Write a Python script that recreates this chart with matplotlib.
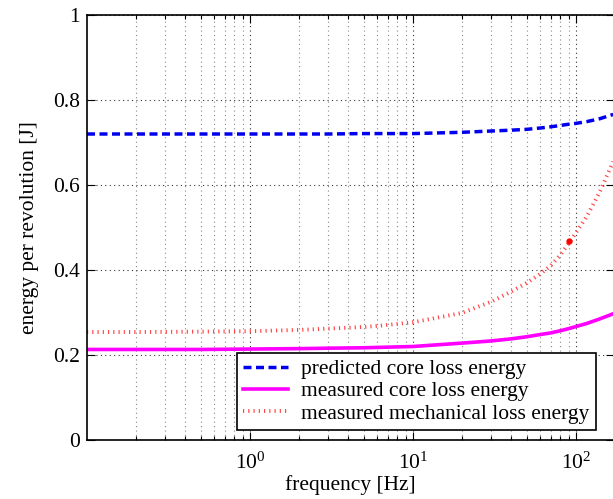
import numpy as np
import matplotlib
matplotlib.use("Agg")
import matplotlib.pyplot as plt
from matplotlib.ticker import LogLocator, MultipleLocator, NullFormatter, FixedLocator, FormatStrFormatter

plt.rcParams['font.family'] = ['Liberation Serif', 'DejaVu Serif']
plt.rcParams['mathtext.fontset'] = 'custom'
plt.rcParams['mathtext.rm'] = 'Liberation Serif'
plt.rcParams['mathtext.it'] = 'Liberation Serif:italic'

# values
freq = [0.1, 0.2, 0.5, 1, 2, 3, 5, 6.3, 10, 20, 30, 40, 50, 60, 70, 80, 90, 100, 116, 140, 169]
predicted_core = [0.720, 0.720, 0.720, 0.720, 0.720, 0.720, 0.721, 0.721, 0.721, 0.724, 0.727, 0.729,
                  0.731, 0.734, 0.737, 0.740, 0.743, 0.745, 0.749, 0.756, 0.766]
measured_core = [0.213, 0.213, 0.213, 0.214, 0.215, 0.216, 0.217, 0.218, 0.220, 0.228, 0.233, 0.238,
                 0.243, 0.248, 0.252, 0.257, 0.262, 0.267, 0.274, 0.285, 0.297]
measured_mech = [0.254, 0.254, 0.255, 0.256, 0.259, 0.262, 0.266, 0.269, 0.277, 0.299, 0.325, 0.349,
                 0.370, 0.390, 0.410, 0.435, 0.462, 0.488, 0.525, 0.584, 0.655]
dot_f = [90]
dot_E = [0.468]
xtick_pos = [1, 10, 100]

W, H = 613, 499
fig = plt.figure(figsize=(W / 100, H / 100), dpi=100)
ax = fig.add_axes([87 / W, (H - 440) / H, 527 / W, 425 / H])

ax.plot(freq, predicted_core, color='#0000ee', lw=2.5, dashes=(2.3, 1.3),
        label='predicted core loss energy')
ax.plot(freq, measured_core, color='magenta', lw=2.6, label='measured core loss energy')
ax.plot(freq, measured_mech, color='#ff4545', lw=2.8, dashes=(0.3, 1.05),
        label='measured mechanical loss energy')
ax.plot(dot_f, dot_E, 'o', color='red', ms=3.5)

ax.set_xscale('log')
ax.set_xlim(0.1, 10 ** ((614 - 250) / 163))
ax.set_ylim(0, 1)
ax.yaxis.set_major_locator(MultipleLocator(0.2))
ax.yaxis.set_major_formatter(FormatStrFormatter('%g'))
ax.xaxis.set_major_locator(FixedLocator(xtick_pos))
ax.xaxis.set_minor_locator(LogLocator(base=10, subs=np.arange(2, 10), numticks=20))
ax.xaxis.set_minor_formatter(NullFormatter())

ax.grid(True, which='major', color='k', linestyle=(0, (1, 3)), lw=0.8, alpha=0.8)
ax.grid(True, which='minor', axis='x', color='#888888', linestyle=(0, (1, 3)), lw=0.8)

ax.tick_params(which='both', direction='in', top=True, right=True, labelsize=15.5, width=0.8)
ax.tick_params(which='major', length=6)
ax.tick_params(axis='x', which='major', pad=9)
ax.tick_params(axis='y', which='major', pad=5)
ax.tick_params(which='minor', length=3)
for s in ax.spines.values():
    s.set_linewidth(1.2)

ax.set_xlabel('frequency [Hz]', fontsize=15.5, labelpad=1)
ax.set_ylabel('energy per revolution [J]', fontsize=15.5, labelpad=10)

leg = ax.legend(loc='lower right', bbox_to_anchor=(596 / W, 69 / H), bbox_transform=fig.transFigure,
                fontsize=15.5, fancybox=False, framealpha=1, edgecolor='k', borderaxespad=0,
                handlelength=2.1, handletextpad=0.6, borderpad=0.3, labelspacing=0.1)
leg.get_frame().set_linewidth(1.2)

fig.savefig('out.png', dpi=100)
